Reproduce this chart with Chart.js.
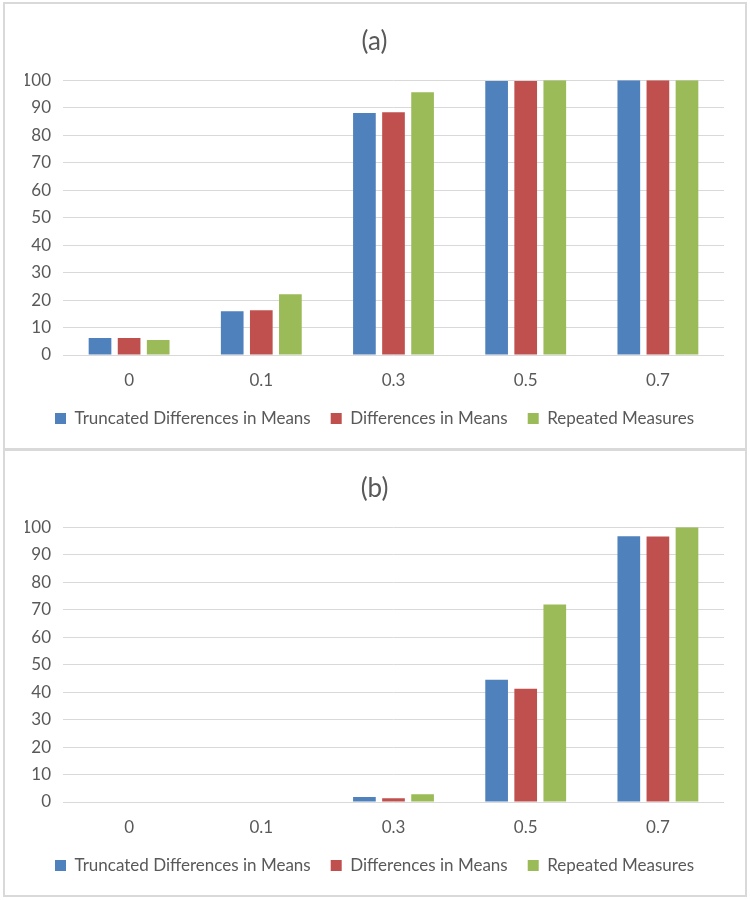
<!DOCTYPE html>
<html>
<head>
<meta charset="utf-8">
<script src="https://cdn.jsdelivr.net/npm/chart.js@4.4.1/dist/chart.umd.min.js"></script>
<style>
  html, body { margin: 0; padding: 0; background: #ffffff; }
  .panel { position: absolute; left: 3px; width: 744px; height: 448px; box-sizing: border-box; border: 2px solid #d9d9d9; background: #fff; }
  .panel canvas { position: absolute; left: 0; top: 0; }
  #pa { top: 2px; }
  #pb { top: 449px; }
</style>
</head>
<body>
<div class="panel" id="pa"><canvas id="ca" width="740" height="444"></canvas></div>
<div class="panel" id="pb"><canvas id="cb" width="740" height="444"></canvas></div>
<script>
const categories = ["0", "0.1", "0.3", "0.5", "0.7"];
const seriesNames = ["Truncated Differences in Means", "Differences in Means", "Repeated Measures"];
const yTicks = [0, 10, 20, 30, 40, 50, 60, 70, 80, 90, 100];

// Panel (a)
const aTruncated = [6.2, 15.9, 88.1, 99.7, 100];
const aDiffMeans = [6.2, 16.3, 88.3, 99.7, 100];
const aRepeated  = [5.5, 22.1, 95.6, 100, 100];

// Panel (b)
const bTruncated = [0, 0, 1.8, 44.5, 96.7];
const bDiffMeans = [0, 0, 1.4, 41.2, 96.6];
const bRepeated  = [0, 0, 2.8, 71.9, 100];

const colors = ["#4f81bd", "#c0504d", "#9bbb59"];
const FONT = "Lato, 'Open Sans', sans-serif";
const TXT = "#595959";

function makeChart(id, title, series) {
  const ctx = document.getElementById(id);
  return new Chart(ctx, {
    type: 'bar',
    data: {
      labels: categories,
      datasets: series.map((vals, i) => ({
        label: seriesNames[i],
        data: vals,
        backgroundColor: colors[i],
        borderWidth: 0,
        categoryPercentage: 0.66,
        barPercentage: 0.78
      }))
    },
    options: {
      responsive: false,
      animation: false,
      devicePixelRatio: 1,
      layout: { padding: { left: 20, right: 21, top: 0, bottom: 11 } },
      plugins: {
        title: {
          display: true,
          text: title,
          color: TXT,
          font: { family: FONT, size: 26, weight: 'normal' },
          padding: { top: 22, bottom: 23 }
        },
        legend: {
          display: true,
          position: 'bottom',
          labels: {
            color: TXT,
            font: { family: FONT, size: 17 },
            boxWidth: 11,
            boxHeight: 11,
            padding: 20
          }
        },
        tooltip: { enabled: false }
      },
      scales: {
        x: {
          grid: { display: false, drawTicks: false },
          border: { display: false },
          ticks: { color: TXT, font: { family: FONT, size: 17 }, padding: 15 },
          afterFit: (s) => { s.height = 35; }
        },
        y: {
          min: 0,
          max: 100,
          afterBuildTicks: (s) => { s.ticks = yTicks.map(v => ({ value: v })); },
          grid: { color: "#d9d9d9", lineWidth: 1, drawTicks: false },
          border: { display: false },
          ticks: { color: TXT, font: { family: FONT, size: 17 }, padding: 12 },
          afterFit: (s) => { s.width = 38; }
        }
      }
    }
  });
}

makeChart('ca', '(a)', [aTruncated, aDiffMeans, aRepeated]);
makeChart('cb', '(b)', [bTruncated, bDiffMeans, bRepeated]);
</script>
</body>
</html>
